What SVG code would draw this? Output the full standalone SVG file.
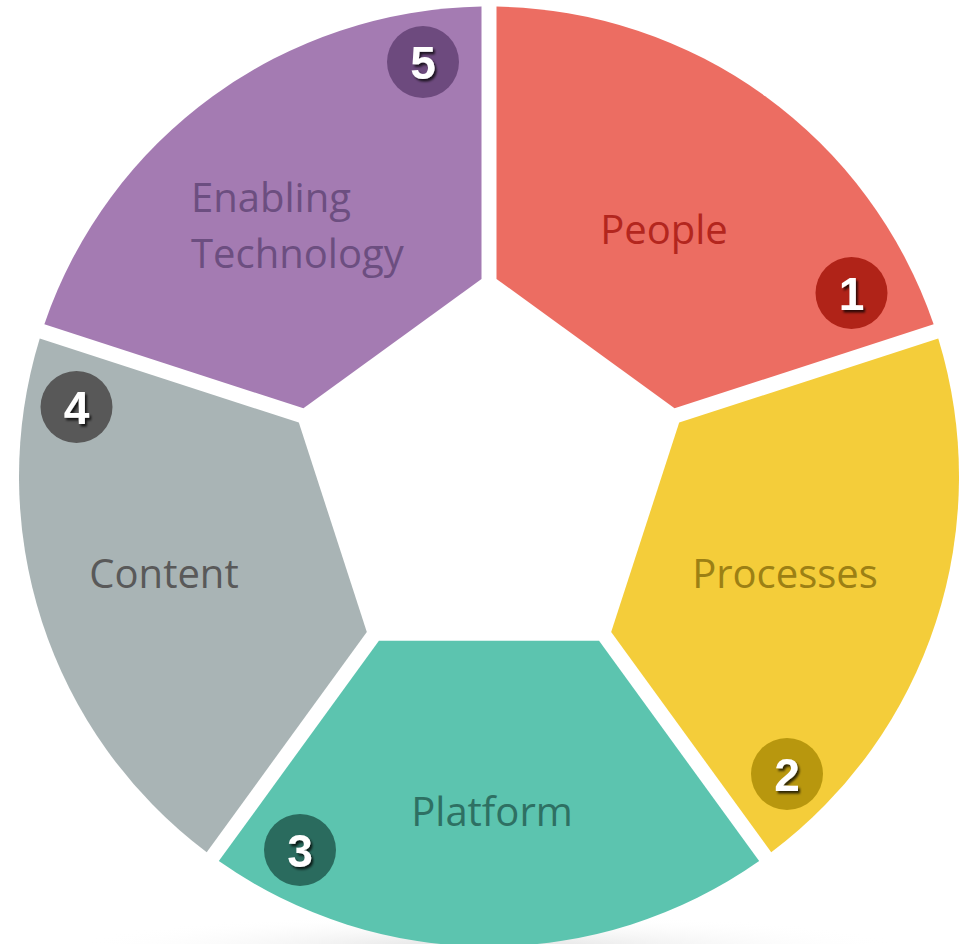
<svg xmlns="http://www.w3.org/2000/svg" width="961" height="944" viewBox="0 0 961 944">
  <defs>
    <path id="seg" d="M7.5,-197.55 L7.5,-469.94 A470,470 0 0 1 444.63,-152.32 L185.57,-68.17 Z"/>
    <radialGradient id="floor" cx="0.5" cy="0.5" r="0.5">
      <stop offset="0" stop-color="#d9d9d9" stop-opacity="0.9"/>
      <stop offset="1" stop-color="#ffffff" stop-opacity="0"/>
    </radialGradient>
    <filter id="ds" x="-30%" y="-30%" width="160%" height="160%">
      <feDropShadow dx="2" dy="2.5" stdDeviation="1" flood-color="#000" flood-opacity="0.75"/>
    </filter>
  </defs>
  <style>
    .lbl { font-family: "Open Sans", "Liberation Sans", sans-serif; font-size: 40px; }
    .num { font-family: "Liberation Sans", Arial, sans-serif; font-size: 46px; font-weight: bold; fill: #ffffff; text-anchor: middle; filter: url(#ds); }
  </style>
  <rect width="961" height="944" fill="#ffffff"/>
  <ellipse cx="489" cy="948" rx="420" ry="34" fill="url(#floor)"/>

  <g id="people">
    <use href="#seg" transform="translate(489,476.5)" fill="#EC6D62"/>
    <text class="lbl" x="664" y="244" text-anchor="middle" fill="#B3261E">People</text>
    <circle cx="851.5" cy="293" r="36" fill="#B02318"/>
    <text class="num" x="851.5" y="309.5">1</text>
  </g>

  <g id="processes">
    <use href="#seg" transform="translate(489,476.5) rotate(72)" fill="#F4CD3A"/>
    <text class="lbl" x="785" y="588" text-anchor="middle" fill="#9C8014">Processes</text>
    <circle cx="787" cy="774" r="36" fill="#B8970E"/>
    <text class="num" x="787" y="790.5">2</text>
  </g>

  <g id="platform">
    <use href="#seg" transform="translate(489,476.5) rotate(144)" fill="#5CC4AF"/>
    <text class="lbl" x="492" y="826" text-anchor="middle" fill="#2E7063">Platform</text>
    <circle cx="300" cy="850" r="36" fill="#2A6B5E"/>
    <text class="num" x="300" y="866.5">3</text>
  </g>

  <g id="content">
    <use href="#seg" transform="translate(489,476.5) rotate(216)" fill="#A9B4B5"/>
    <text class="lbl" x="164" y="588" text-anchor="middle" fill="#595959">Content</text>
    <circle cx="76.5" cy="407" r="36" fill="#585858"/>
    <text class="num" x="76.5" y="423.5">4</text>
  </g>

  <g id="enabling-technology">
    <use href="#seg" transform="translate(489,476.5) rotate(288)" fill="#A47BB2"/>
    <text class="lbl" x="191" y="212" fill="#6C4E80">Enabling</text>
    <text class="lbl" x="191" y="268" fill="#6C4E80">Technology</text>
    <circle cx="423" cy="62" r="36" fill="#6D4A7E"/>
    <text class="num" x="423" y="78.5">5</text>
  </g>
</svg>
